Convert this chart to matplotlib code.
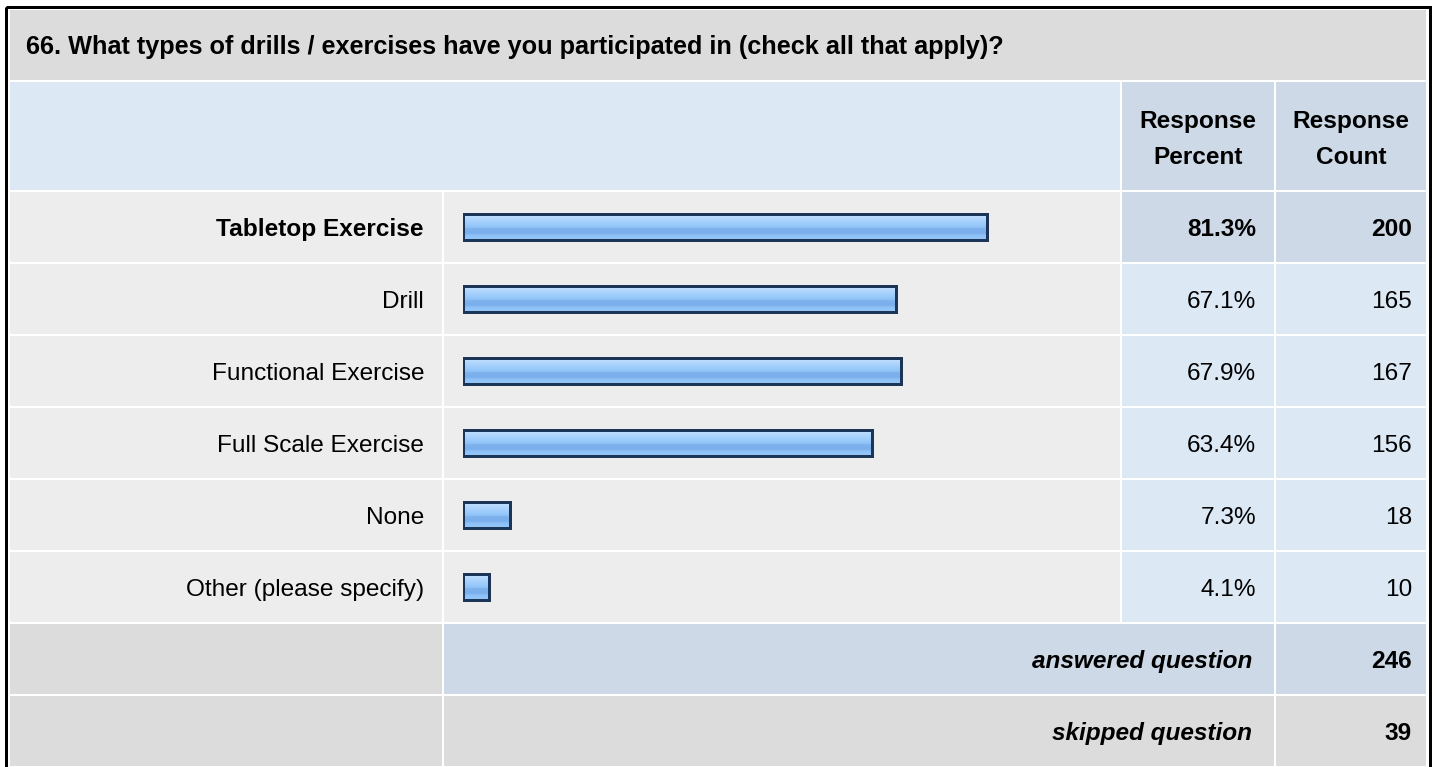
import numpy as np
import matplotlib
matplotlib.use("Agg")
import matplotlib.pyplot as plt
from matplotlib.patches import Rectangle
from matplotlib.colors import LinearSegmentedColormap

plt.rcParams['font.family'] = ['Liberation Sans', 'DejaVu Sans']

# Survey data
title = "66. What types of drills / exercises have you participated in (check all that apply)?"
options = ["Tabletop Exercise", "Drill", "Functional Exercise", "Full Scale Exercise",
           "None", "Other (please specify)"]
percents = [81.3, 67.1, 67.9, 63.4, 7.3, 4.1]
counts = [200, 165, 167, 156, 18, 10]
answered = 246
skipped = 39
header_cols = ["Response\nPercent", "Response\nCount"]

W, H = 1437, 767
fig = plt.figure(figsize=(W / 100, H / 100), dpi=100)
ax = fig.add_axes([0, 0, 1, 1])
ax.set_xlim(0, W)
ax.set_ylim(H, 0)
ax.axis("off")

PX = 0.72  # points per pixel
FS = 17.6
FS_TITLE = 18.2

# table geometry (pixels)
x_left, x_lab, x_bar, x_pct, x_cnt, x_right = 10, 442, 444, 1122, 1276, 1426
col_lab_end, col_bar_end, col_pct_end = 442, 1120, 1274
title_top, title_bot = 10, 80
head_top, head_bot = 82, 190
row_top0, row_pitch, row_h = 192, 72, 70

GRAY_T = "#dcdcdc"
GRAY_ROW = "#ededed"
BLUE_L = "#dde8f5"
BLUE_D = "#cdd9e6"


def cell(x0, x1, y0, y1, color):
    ax.add_patch(Rectangle((x0, y0), x1 - x0, y1 - y0, facecolor=color,
                           edgecolor="none", zorder=1))


# title row
cell(x_left, x_right, title_top, title_bot, GRAY_T)
ax.text(26, 54, title, fontsize=FS_TITLE, fontweight="bold", va="baseline", ha="left",
        color="black", zorder=3)

# header row
cell(x_left, col_bar_end, head_top, head_bot, BLUE_L)
cell(x_pct, col_pct_end, head_top, head_bot, BLUE_D)
cell(x_cnt, x_right, head_top, head_bot, BLUE_D)
for (c0, c1), txt in zip([(x_pct, col_pct_end), (x_cnt, x_right)], header_cols):
    l1, l2 = txt.split("\n")
    xc = (c0 + c1) / 2
    ax.text(xc, 128, l1, fontsize=FS, fontweight="bold", ha="center", va="baseline", zorder=3)
    ax.text(xc, 164, l2, fontsize=FS, fontweight="bold", ha="center", va="baseline", zorder=3)

# option rows
centers = []
for i, (name, p, n) in enumerate(zip(options, percents, counts)):
    y0 = row_top0 + i * row_pitch
    y1 = y0 + row_h
    yc = (y0 + y1) / 2
    centers.append(yc)
    top_choice = (i == int(np.argmax(counts)))
    cell(x_left, col_lab_end, y0, y1, GRAY_ROW)
    cell(x_bar, col_bar_end, y0, y1, GRAY_ROW)
    side = BLUE_D if top_choice else BLUE_L
    cell(x_pct, col_pct_end, y0, y1, side)
    cell(x_cnt, x_right, y0, y1, side)
    fw = "bold" if top_choice else "normal"
    base = yc + 9
    ax.text(424, base, name, fontsize=FS, fontweight=fw, ha="right", va="baseline", zorder=3)
    ax.text(1256, base, f"{p:.1f}%", fontsize=FS, fontweight=fw, ha="right", va="baseline", zorder=3)
    ax.text(1412, base, f"{n}", fontsize=FS, fontweight=fw, ha="right", va="baseline", zorder=3)

# summary rows
n_rows = len(options)
summary = [("answered question", answered, BLUE_D, BLUE_D),
           ("skipped question", skipped, GRAY_T, GRAY_T)]
for j, (lab, val, mid_c, cnt_c) in enumerate(summary):
    y0 = row_top0 + (n_rows + j) * row_pitch
    y1 = y0 + row_h
    yc = (y0 + y1) / 2
    cell(x_left, col_lab_end, y0, y1, GRAY_T)
    cell(x_bar, col_pct_end, y0, y1, mid_c)
    cell(x_cnt, x_right, y0, y1, cnt_c)
    ax.text(1252, yc + 9, lab, fontsize=FS, fontweight="bold", style="italic",
            ha="right", va="baseline", zorder=3)
    ax.text(1412, yc + 9, f"{val}", fontsize=FS, fontweight="bold",
            ha="right", va="baseline", zorder=3)

# outer frame
ax.add_patch(Rectangle((5.5, 6.5), 1429.5 - 5.5, H + 20, facecolor="none",
                       edgecolor="black", lw=3 * PX, zorder=5, clip_on=False))

# bars in their own percent axis
bar_x0, bar_span = 463, 645
bx = fig.add_axes([bar_x0 / W, 0, bar_span / W, 1])
bx.set_xlim(0, 100)
bx.set_ylim(H, 0)
bx.axis("off")
bx.patch.set_alpha(0)

grad = LinearSegmentedColormap.from_list("barfill", [
    (0.00, "#cfe6ff"), (0.18, "#b4d8fd"), (0.40, "#9cccfb"),
    (0.52, "#92c4f7"), (0.58, "#7db2ee"), (0.75, "#79aeea"),
    (0.82, "#8dc0f6"), (1.00, "#95c7f9")])
gimg = np.linspace(0, 1, 64).reshape(-1, 1)

bar_h = 26.5
bars = bx.barh(centers, percents, height=bar_h, left=0, color="none",
               edgecolor="#1c3557", linewidth=3 * PX, zorder=4)
for rect in bars:
    x, y = rect.get_x(), rect.get_y()
    w, h = rect.get_width(), rect.get_height()
    im = bx.imshow(gimg, cmap=grad, aspect="auto", extent=(x, x + w, y + h, y),
                   interpolation="bilinear", zorder=3)
    im.set_clip_path(rect)

fig.savefig("out.png", dpi=100, facecolor="white")
